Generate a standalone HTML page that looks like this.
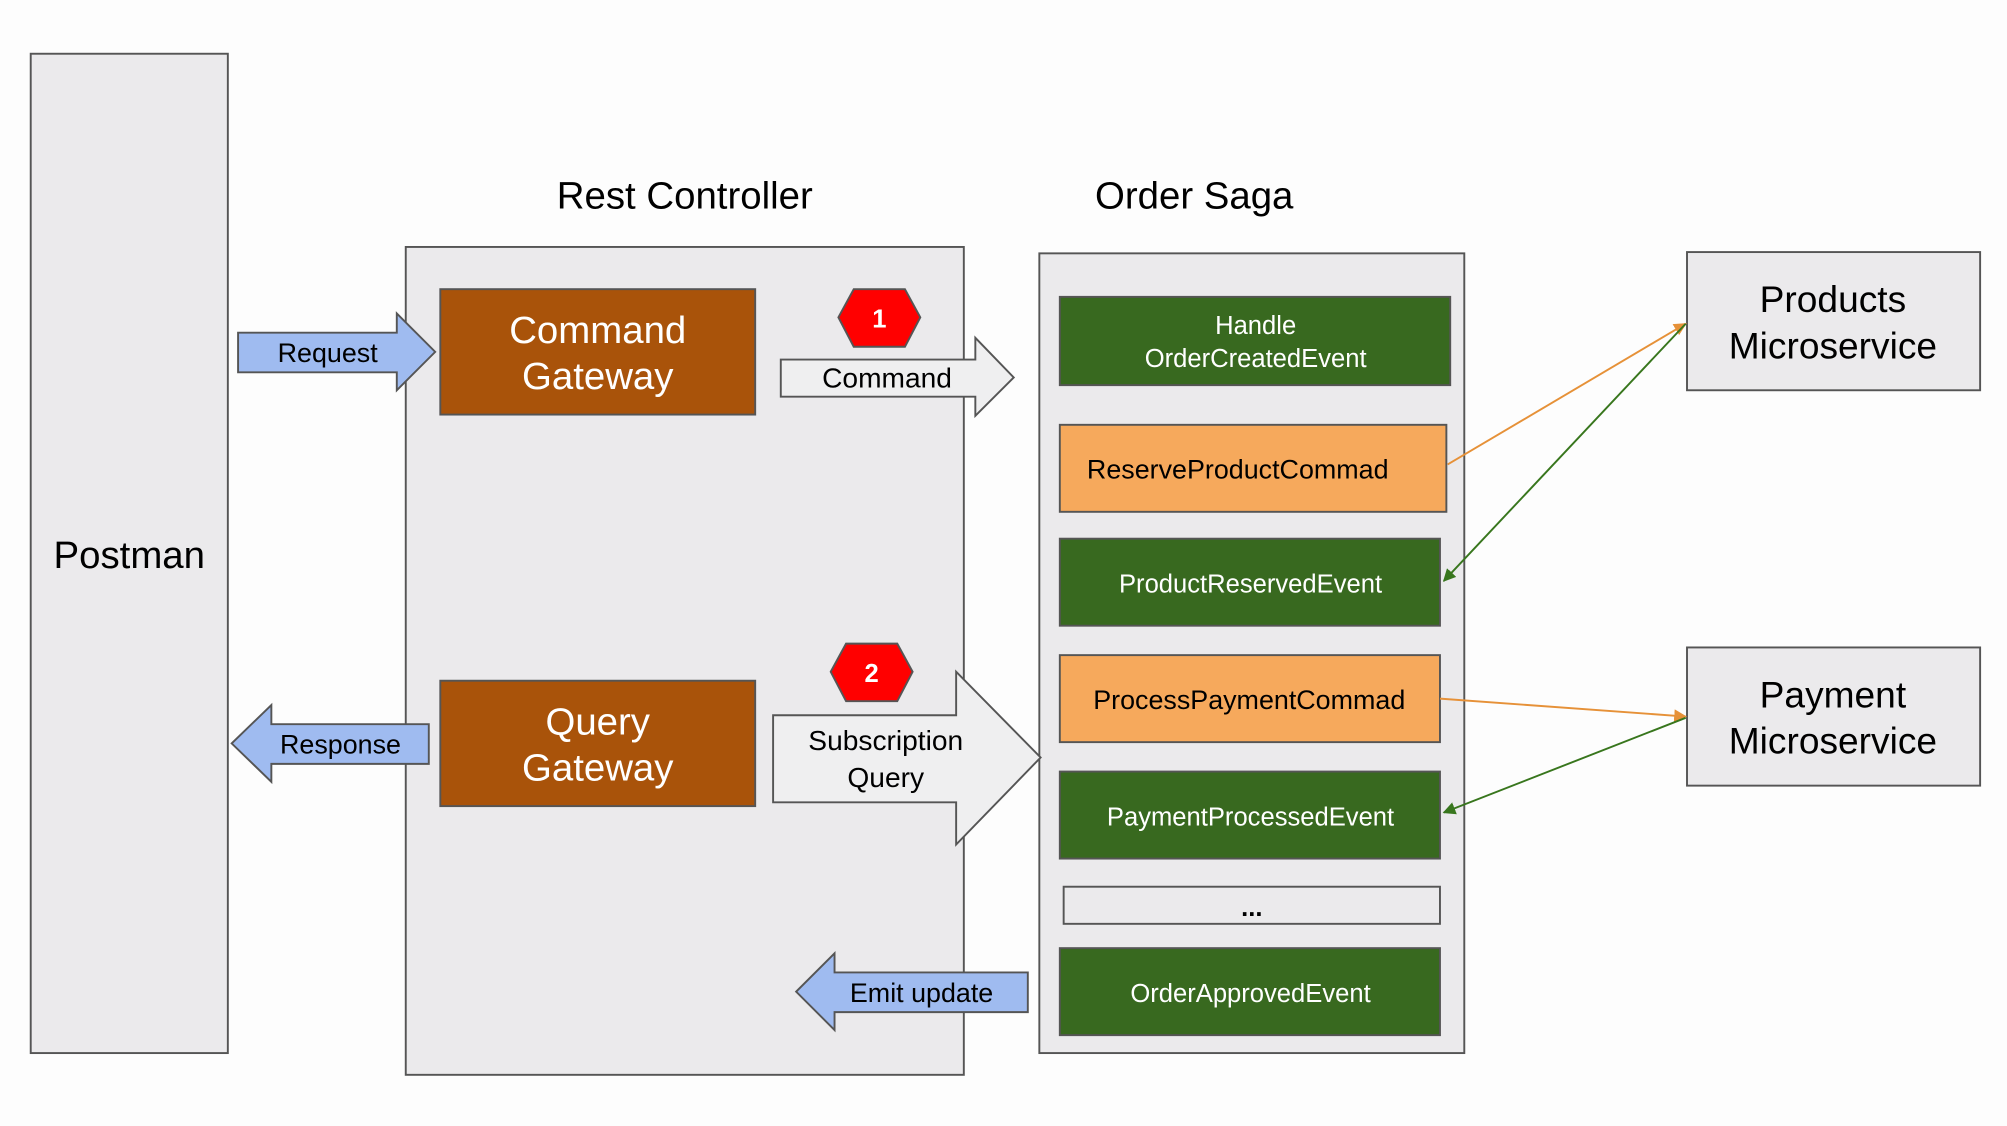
<!DOCTYPE html>
<html><head><meta charset="utf-8"><style>
html,body{margin:0;padding:0;background:#fff;}
svg{display:block;}
text{font-family:"Liberation Sans",sans-serif;}
</style></head><body>
<svg width="2007" height="1126" viewBox="0 0 1568 880" preserveAspectRatio="none" xmlns="http://www.w3.org/2000/svg">
<defs>
<marker id="ao" markerWidth="10" markerHeight="10" refX="9" refY="5" orient="auto" markerUnits="userSpaceOnUse"><path d="M0,0 L10,5 L0,10 z" fill="#e69138"/></marker>
<marker id="ag" markerWidth="10" markerHeight="10" refX="9" refY="5" orient="auto" markerUnits="userSpaceOnUse"><path d="M0,0 L10,5 L0,10 z" fill="#38761d"/></marker>
</defs>
<rect width="1568" height="880" fill="#fdfdfd"/>
<g stroke="#555" stroke-width="1.5">
<rect x="24" y="42" width="154" height="781" fill="#ebeaec"/>
<rect x="317" y="193" width="436" height="647" fill="#ebeaec"/>
<rect x="812" y="198" width="332" height="625" fill="#ebeaec"/>
<rect x="1318" y="197" width="229" height="108" fill="#ebeaec"/>
<rect x="1318" y="506" width="229" height="108" fill="#ebeaec"/>
<rect x="344" y="226" width="246" height="98" fill="#a9530a"/>
<rect x="344" y="532" width="246" height="98" fill="#a9530a"/>
<rect x="828" y="232" width="305" height="69" fill="#38691f"/>
<rect x="828" y="332" width="302" height="68" fill="#f6a95c"/>
<rect x="828" y="421" width="297" height="68" fill="#38691f"/>
<rect x="828" y="512" width="297" height="68" fill="#f6a95c"/>
<rect x="828" y="603" width="297" height="68" fill="#38691f"/>
<rect x="831" y="693" width="294" height="29" fill="#ebeaec"/>
<rect x="828" y="741" width="297" height="68" fill="#38691f"/>
<polygon points="186,260 310,260 310,245 340,275 310,305 310,291 186,291" fill="#9fbbf0"/>
<polygon points="335,566 212,566 212,551 181,581 212,611 212,597 335,597" fill="#9fbbf0"/>
<polygon points="803,760 652,760 652,745 622,775 652,805 652,791 803,791" fill="#9fbbf0"/>
<polygon points="610,281 762,281 762,264 792,295 762,325 762,310 610,310" fill="#efeff0"/>
<polygon points="604,559 747,559 747,525 813,592 747,660 747,627 604,627" fill="#efeff0"/>
<polygon points="667,226 707,226 719,248 707,271 667,271 655,248" fill="#f00"/>
<polygon points="661,503 701,503 713,525 701,548 661,548 649,525" fill="#f00"/>
</g>
<g stroke-width="1.5" fill="none">
<line x1="1131" y1="363" x2="1317" y2="253" stroke="#e69138" marker-end="url(#ao)"/>
<line x1="1317" y1="253" x2="1128" y2="454" stroke="#38761d" marker-end="url(#ag)"/>
<line x1="1125" y1="546" x2="1317" y2="560" stroke="#e69138" marker-end="url(#ao)"/>
<line x1="1317" y1="561" x2="1128" y2="635" stroke="#38761d" marker-end="url(#ag)"/>
</g>
<g text-anchor="middle" fill="#000">
<text x="101" y="444" font-size="30">Postman</text>
<text x="535" y="163" font-size="30">Rest Controller</text>
<text x="933" y="163" font-size="30">Order Saga</text>
<text x="1432" y="244" font-size="29">Products</text>
<text x="1432" y="280" font-size="29">Microservice</text>
<text x="1432" y="553" font-size="29">Payment</text>
<text x="1432" y="589" font-size="29">Microservice</text>
<text x="256" y="283" font-size="21">Request</text>
<text x="266" y="589" font-size="21">Response</text>
<text x="720" y="783" font-size="21">Emit update</text>
<text x="693" y="303" font-size="22">Command</text>
<text x="692" y="586" font-size="22">Subscription</text>
<text x="692" y="615" font-size="22">Query</text>
<text x="967" y="374" font-size="21">ReserveProductCommad</text>
<text x="976" y="554" font-size="21">ProcessPaymentCommad</text>
<text x="978" y="716" font-size="20" font-weight="bold">...</text>
</g>
<g text-anchor="middle" fill="#fff">
<text x="467" y="268" font-size="30">Command</text>
<text x="467" y="304" font-size="30">Gateway</text>
<text x="467" y="574" font-size="30">Query</text>
<text x="467" y="610" font-size="30">Gateway</text>
<text x="687" y="256" font-size="20" font-weight="bold">1</text>
<text x="681" y="533" font-size="20" font-weight="bold">2</text>
<text x="981" y="261" font-size="20">Handle</text>
<text x="981" y="287" font-size="20">OrderCreatedEvent</text>
<text x="977" y="463" font-size="20">ProductReservedEvent</text>
<text x="977" y="645" font-size="20">PaymentProcessedEvent</text>
<text x="977" y="783" font-size="20">OrderApprovedEvent</text>
</g>
</svg>
</body></html>
